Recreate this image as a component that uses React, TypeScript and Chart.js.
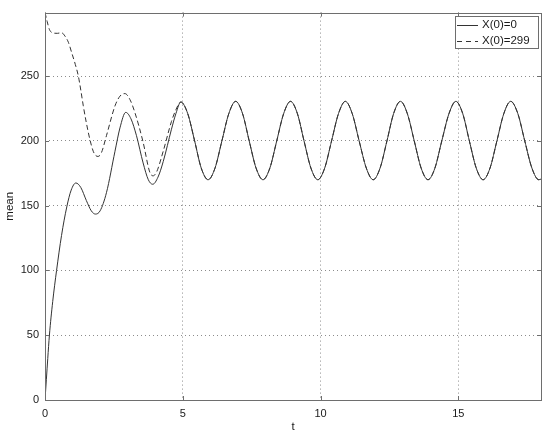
import React, { useEffect, useRef } from 'react';
import { Chart, registerables } from 'chart.js';

Chart.register(...registerables);

// Transient part of X(0)=0 (solid)
const solidT = [0, 0.05, 0.1, 0.16, 0.28, 0.42, 0.6, 0.79, 0.95, 1.12, 1.3, 1.5, 1.68, 1.83, 2.0, 2.23, 2.54, 2.72, 2.93, 3.12, 3.32, 3.56, 3.75, 3.91, 4.1, 4.29, 4.59, 4.75];
const solidY = [0, 16, 32, 50, 76, 100, 127, 149, 162, 167.5, 164, 154, 146, 143.5, 146, 160, 192, 210, 222, 217, 204, 183, 170, 166.5, 172, 184, 209, 221];

// Transient part of X(0)=299 (dashed)
const dashT = [0, 0.08, 0.16, 0.26, 0.45, 0.6, 0.72, 0.85, 0.97, 1.1, 1.21, 1.3, 1.39, 1.5, 1.63, 1.75, 1.85, 1.93, 2.05, 2.23, 2.54, 2.72, 2.9, 3.08, 3.26, 3.56, 3.8, 3.92, 4.05, 4.29, 4.59, 4.75];
const dashY = [299, 292, 286, 283.5, 283, 283.5, 281, 276, 268, 259, 250, 239, 227, 214, 201, 192, 188.5, 188, 191, 204, 227, 234.5, 236.5, 232, 222, 199, 176, 173, 176, 192, 215, 224];

// Shared steady oscillation (both curves coincide)
const steadyT = [4.93, 5.18, 5.43, 5.67, 5.92, 6.17, 6.42, 6.67, 6.92, 7.17, 7.41, 7.66, 7.91, 8.16, 8.41, 8.66, 8.91, 9.16, 9.4, 9.65, 9.9, 10.15, 10.4, 10.65, 10.9, 11.15, 11.4, 11.66, 11.91, 12.16, 12.41, 12.65, 12.9, 13.15, 13.4, 13.65, 13.9, 14.15, 14.4, 14.66, 14.91, 15.16, 15.4, 15.65, 15.9, 16.15, 16.4, 16.65, 16.9, 17.16, 17.41, 17.67, 17.92, 18.0];
const steadyY = [230, 221, 200, 179, 170, 179, 200, 221, 230.5, 221, 200, 179, 170, 179, 200, 221, 230.5, 221, 200, 179, 170, 179, 200, 221, 230.5, 221, 200, 179, 170, 179, 200, 221, 230.5, 221, 200, 179, 170, 179, 200, 221, 230.5, 221, 200, 179, 170, 179, 200, 221, 230.5, 221, 200, 179, 170, 170.5];

const xTicks = [0, 5, 10, 15];
const yTicks = [0, 50, 100, 150, 200, 250];
const xRange = [0, 18];
const yRange = [0, 299];
const seriesLabels = ['X(0)=0', 'X(0)=299'];
const xTitle = 't';
const yTitle = 'mean';

const FONT = '"Liberation Sans", Arial, Helvetica, sans-serif';
const LINE = '#333333';
const TEXT = '#1a1a1a';

function toPoints(ts: number[], ys: number[]) {
  return ts.map((t, i) => ({ x: t, y: ys[i] }));
}

const boxPlugin = {
  id: 'boxBorder',
  afterDatasetsDraw(chart: any) {
    const { ctx, chartArea } = chart;
    const { left, top, right, bottom } = chartArea;
    ctx.save();
    ctx.strokeStyle = '#6e6e6e';
    ctx.lineWidth = 1;
    ctx.setLineDash([]);
    ctx.strokeRect(Math.round(left) + 0.5, Math.round(top) + 0.5, Math.round(right - left), Math.round(bottom - top));
    ctx.beginPath();
    const xs = chart.scales.x;
    const ys = chart.scales.y;
    xTicks.forEach((v) => {
      const px = Math.round(xs.getPixelForValue(v)) + 0.5;
      ctx.moveTo(px, bottom);
      ctx.lineTo(px, bottom - 4);
      ctx.moveTo(px, top);
      ctx.lineTo(px, top + 4);
    });
    yTicks.forEach((v) => {
      const py = Math.round(ys.getPixelForValue(v)) + 0.5;
      ctx.moveTo(left, py);
      ctx.lineTo(left + 4, py);
      ctx.moveTo(right, py);
      ctx.lineTo(right - 4, py);
    });
    ctx.stroke();
    ctx.restore();
  },
};

const legendPlugin = {
  id: 'boxLegend',
  afterDraw(chart: any) {
    const { ctx, chartArea } = chart;
    const bx = Math.round(chartArea.right) - 86;
    const by = Math.round(chartArea.top) + 3;
    const bw = 83;
    const bh = 32;
    ctx.save();
    ctx.fillStyle = '#ffffff';
    ctx.fillRect(bx, by, bw, bh);
    ctx.strokeStyle = '#6e6e6e';
    ctx.lineWidth = 1;
    ctx.setLineDash([]);
    ctx.strokeRect(bx + 0.5, by + 0.5, bw, bh);
    const rows = [by + 8.5, by + 24.5];
    const dashes = [[], [5, 4]];
    rows.forEach((ry, i) => {
      ctx.strokeStyle = LINE;
      ctx.setLineDash(dashes[i]);
      ctx.beginPath();
      ctx.moveTo(bx + 2, Math.round(ry) + 0.5);
      ctx.lineTo(bx + 23, Math.round(ry) + 0.5);
      ctx.stroke();
      ctx.setLineDash([]);
      ctx.fillStyle = TEXT;
      ctx.font = `11.5px ${FONT}`;
      ctx.textBaseline = 'middle';
      ctx.textAlign = 'left';
      ctx.fillText(seriesLabels[i], bx + 27, ry + 0.5);
    });
    ctx.restore();
  },
};

const gridOpts = {
  color: '#8c8c8c',
  lineWidth: 1,
  drawTicks: false,
};

const borderOpts = {
  display: false,
  dash: [1, 3],
};

export default function App() {
  const ref = useRef<HTMLCanvasElement | null>(null);

  useEffect(() => {
    if (!ref.current) return;
    const solidData = [...toPoints(solidT, solidY), ...toPoints(steadyT, steadyY)];
    const dashData = [...toPoints(dashT, dashY), ...toPoints(steadyT, steadyY)];
    const chart = new Chart(ref.current, {
      type: 'line',
      data: {
        datasets: [
          {
            label: seriesLabels[0],
            data: solidData,
            borderColor: LINE,
            borderWidth: 1,
            pointRadius: 0,
            fill: false,
            cubicInterpolationMode: 'monotone',
          },
          {
            label: seriesLabels[1],
            data: dashData,
            borderColor: LINE,
            borderWidth: 1,
            borderDash: [5, 3],
            pointRadius: 0,
            fill: false,
            cubicInterpolationMode: 'monotone',
          },
        ],
      },
      options: {
        responsive: false,
        animation: false,
        layout: { padding: { top: 7, right: 9, left: 0, bottom: 0 } },
        plugins: {
          legend: { display: false },
          tooltip: { enabled: false },
        },
        scales: {
          x: {
            type: 'linear',
            min: xRange[0],
            max: xRange[1],
            afterBuildTicks: (s: any) => {
              s.ticks = xTicks.map((v) => ({ value: v }));
            },
            afterFit: (s: any) => {
              s.height = 38;
            },
            border: borderOpts,
            grid: gridOpts,
            ticks: {
              color: TEXT,
              font: { family: FONT, size: 11 },
              padding: 7,
              maxRotation: 0,
              autoSkip: false,
            },
            title: {
              display: true,
              text: xTitle,
              color: TEXT,
              font: { family: FONT, size: 11.5 },
              padding: { top: 0, bottom: 4 },
            },
          },
          y: {
            type: 'linear',
            min: yRange[0],
            max: yRange[1],
            afterBuildTicks: (s: any) => {
              s.ticks = yTicks.map((v) => ({ value: v }));
            },
            afterFit: (s: any) => {
              s.width = 45;
            },
            border: borderOpts,
            grid: gridOpts,
            ticks: {
              color: TEXT,
              font: { family: FONT, size: 11 },
              padding: 6,
              autoSkip: false,
            },
            title: {
              display: true,
              text: yTitle,
              color: TEXT,
              font: { family: FONT, size: 11.5 },
              padding: { top: 3, bottom: 0 },
            },
          },
        },
      },
      plugins: [boxPlugin, legendPlugin],
    } as any);

    return () => chart.destroy();
  }, []);

  return (
    <div style={{ position: 'absolute', left: 0, top: 0, width: 550, height: 438, background: '#fff' }}>
      <canvas ref={ref} width={550} height={438} style={{ display: 'block' }} />
    </div>
  );
}
